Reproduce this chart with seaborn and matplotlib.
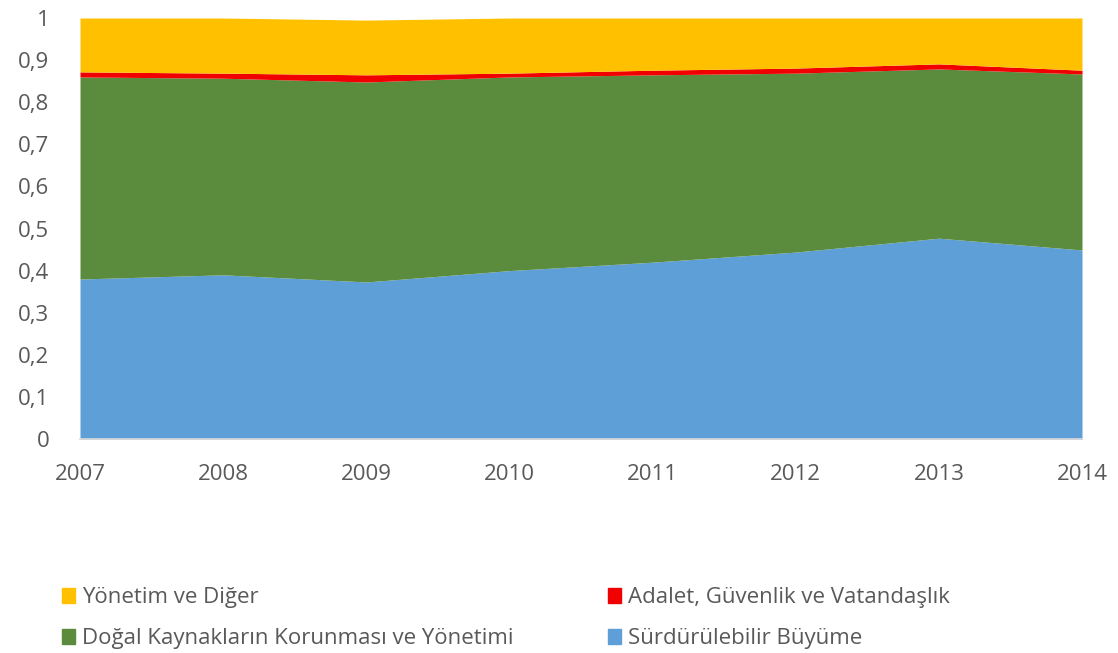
import matplotlib
matplotlib.use("Agg")
import matplotlib.pyplot as plt
import seaborn as sns
from matplotlib.patches import Patch

years = [2007, 2008, 2009, 2010, 2011, 2012, 2013, 2014]
surdurulebilir = [0.380, 0.390, 0.373, 0.400, 0.420, 0.444, 0.477, 0.449]
dogal = [0.480, 0.467, 0.475, 0.460, 0.445, 0.425, 0.402, 0.418]
adalet = [0.012, 0.012, 0.017, 0.009, 0.011, 0.012, 0.012, 0.009]
yonetim = [0.128, 0.131, 0.130, 0.131, 0.124, 0.119, 0.109, 0.124]

labels = ["Sürdürülebilir Büyüme", "Doğal Kaynakların Korunması ve Yönetimi",
          "Adalet, Güvenlik ve Vatandaşlık", "Yönetim ve Diğer"]
colors = ["#5E9FD7", "#5B8C3E", "#F00000", "#FFC000"]
yticks = [0, 0.1, 0.2, 0.3, 0.4, 0.5, 0.6, 0.7, 0.8, 0.9, 1]
ytick_labels = ["0", "0,1", "0,2", "0,3", "0,4", "0,5", "0,6", "0,7", "0,8", "0,9", "1"]

sns.set_theme(style="white")
plt.rcParams["font.family"] = ["Open Sans", "DejaVu Sans"]

fig = plt.figure(figsize=(11.18, 6.53), dpi=100)
ax = fig.add_axes([80/1118, 1-439/653, (1082-80)/1118, (439-18)/653])
ax.stackplot(years, surdurulebilir, dogal, adalet, yonetim, colors=colors, linewidth=0)

ax.set_xlim(years[0], years[-1])
ax.set_ylim(0, 1)
ax.set_xticks(years)
ax.set_xticklabels([str(y) for y in years])
ax.set_yticks(yticks)
ax.set_yticklabels(ytick_labels)
ax.tick_params(axis="both", labelsize=16, colors="#595959", length=0)
ax.tick_params(axis="x", pad=18)
ax.tick_params(axis="y", pad=22)
for s in ["top", "right", "left"]:
    ax.spines[s].set_visible(False)
ax.spines["bottom"].set_color("#D9D9D9")

handles = [Patch(color=colors[3], label=labels[3]),
           Patch(color=colors[1], label=labels[1]),
           Patch(color=colors[2], label=labels[2]),
           Patch(color=colors[0], label=labels[0])]
leg = fig.legend(handles=handles, ncol=2, loc="lower left", bbox_to_anchor=(42/1118, -0.025),
                 frameon=False, fontsize=16, handlelength=0.6, handleheight=0.6,
                 handletextpad=0.3, columnspacing=4.25, labelspacing=0.9)
for t in leg.get_texts():
    t.set_color("#595959")

fig.savefig("out.png", dpi=100)
